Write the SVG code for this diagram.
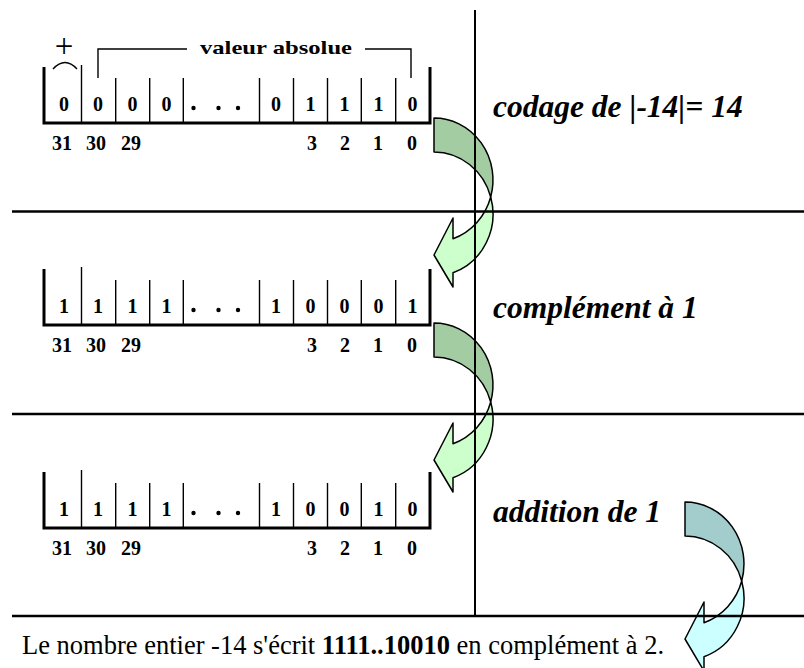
<svg xmlns="http://www.w3.org/2000/svg" width="804" height="668" viewBox="0 0 804 668">
<style>
.bar{fill:none;stroke:#000;stroke-width:3}
.div{stroke:#000;stroke-width:1.4}
.thin{fill:none;stroke:#000;stroke-width:1.4}
.dig{font-family:"Liberation Serif",serif;font-weight:bold;font-size:20px;text-anchor:middle;fill:#000}
.lab{font-family:"Liberation Serif",serif;font-weight:bold;font-style:italic;font-size:31.5px;fill:#000}
.grid{stroke:#000;stroke-width:2.5}
.vgrid{stroke:#000;stroke-width:2}
.ar{stroke:#000;stroke-width:1.5;stroke-linejoin:round}
</style>
<defs>
<g id="frame">
<path class="bar" d="M44,67 V123 H430 V67"/>
<line class="div" x1="81.5" y1="65" x2="81.5" y2="123"/>
<line class="div" x1="115.7" y1="78" x2="115.7" y2="123"/>
<line class="div" x1="149.7" y1="78" x2="149.7" y2="123"/>
<line class="div" x1="183.3" y1="78" x2="183.3" y2="123"/>
<line class="div" x1="259.5" y1="78" x2="259.5" y2="123"/>
<line class="div" x1="293.5" y1="78" x2="293.5" y2="123"/>
<line class="div" x1="327.5" y1="78" x2="327.5" y2="123"/>
<line class="div" x1="361.3" y1="78" x2="361.3" y2="123"/>
<line class="div" x1="395.7" y1="78" x2="395.7" y2="123"/>
<circle cx="193.5" cy="108" r="2.2"/>
<circle cx="218.5" cy="108" r="2.2"/>
<circle cx="238" cy="108" r="2.2"/>
<text class="dig" x="62" y="150">31</text>
<text class="dig" x="96" y="150">30</text>
<text class="dig" x="131" y="150">29</text>
<text class="dig" x="312" y="150">3</text>
<text class="dig" x="345" y="150">2</text>
<text class="dig" x="378" y="150">1</text>
<text class="dig" x="412" y="150">0</text>
</g>
</defs>

<g id="row1">
<use href="#frame"/>
<text class="dig" x="64" y="111">0</text>
<text class="dig" x="98" y="111">0</text>
<text class="dig" x="132.5" y="111">0</text>
<text class="dig" x="166.5" y="111">0</text>
<text class="dig" x="276" y="111">0</text>
<text class="dig" x="310.5" y="111">1</text>
<text class="dig" x="344.5" y="111">1</text>
<text class="dig" x="378.5" y="111">1</text>
<text class="dig" x="412.5" y="111">0</text>
<text x="64" y="57" font-family="Liberation Serif, serif" font-size="33" text-anchor="middle">+</text>
<path class="thin" d="M53,69 Q65,56 77,69"/>
<path class="thin" d="M98,78 V49 H187 M365,49 H411 V78"/>
<text class="dig" x="200" y="54" textLength="152" lengthAdjust="spacingAndGlyphs" style="text-anchor:start;font-size:19px">valeur absolue</text>
</g>

<g id="row2" transform="translate(0,202)">
<use href="#frame"/>
<text class="dig" x="64" y="111">1</text>
<text class="dig" x="98" y="111">1</text>
<text class="dig" x="132.5" y="111">1</text>
<text class="dig" x="166.5" y="111">1</text>
<text class="dig" x="276" y="111">1</text>
<text class="dig" x="310.5" y="111">0</text>
<text class="dig" x="344.5" y="111">0</text>
<text class="dig" x="378.5" y="111">0</text>
<text class="dig" x="412.5" y="111">1</text>
</g>

<g id="row3" transform="translate(0,405)">
<use href="#frame"/>
<text class="dig" x="64" y="111">1</text>
<text class="dig" x="98" y="111">1</text>
<text class="dig" x="132.5" y="111">1</text>
<text class="dig" x="166.5" y="111">1</text>
<text class="dig" x="276" y="111">1</text>
<text class="dig" x="310.5" y="111">0</text>
<text class="dig" x="344.5" y="111">0</text>
<text class="dig" x="378.5" y="111">1</text>
<text class="dig" x="412.5" y="111">0</text>
</g>

<g id="label1"><text class="lab" x="493" y="117">codage de |-14|= 14</text></g>
<g id="label2"><text class="lab" x="493" y="318">complément à 1</text></g>
<g id="label3"><text class="lab" x="493" y="522">addition de 1</text></g>

<g id="result"><text x="22" y="654" font-family="Liberation Serif, serif" font-size="26.5">Le nombre entier -14 s'écrit <tspan font-weight="bold">1111..10010</tspan> en complément à 2.</text></g>

<g id="connectors">
<g id="arrow1">
<path class="ar" fill="#a3cca3" d="M434,118 A59,62 0 0 1 490.7,197 A59,62 0 0 0 434,152 Z"/>
<path class="ar" fill="#ccffcc" d="M490.7,197 A59,62 0 0 1 453,272.7 L453,287 L434,255 L453,218 L453,238.7 A59,62 0 0 0 490.7,197 Z"/>
</g>
<g id="arrow2" transform="translate(0,205)">
<path class="ar" fill="#a3cca3" d="M434,118 A59,62 0 0 1 490.7,197 A59,62 0 0 0 434,152 Z"/>
<path class="ar" fill="#ccffcc" d="M490.7,197 A59,62 0 0 1 453,272.7 L453,287 L434,255 L453,218 L453,238.7 A59,62 0 0 0 490.7,197 Z"/>
</g>
<g id="arrow3" transform="translate(251,384)">
<path class="ar" fill="#a3cccc" d="M434,118 A59,62 0 0 1 490.7,197 A59,62 0 0 0 434,152 Z"/>
<path class="ar" fill="#ccffff" d="M490.7,197 A59,62 0 0 1 453,272.7 L453,287 L434,255 L453,218 L453,238.7 A59,62 0 0 0 490.7,197 Z"/>
</g>
</g>

<g id="table">
<line class="grid" x1="12" y1="211.5" x2="804" y2="211.5"/>
<line class="grid" x1="12" y1="414" x2="804" y2="414"/>
<line class="grid" x1="12" y1="616" x2="804" y2="616"/>
<line class="vgrid" x1="475" y1="10" x2="475" y2="616"/>
</g>
</svg>
